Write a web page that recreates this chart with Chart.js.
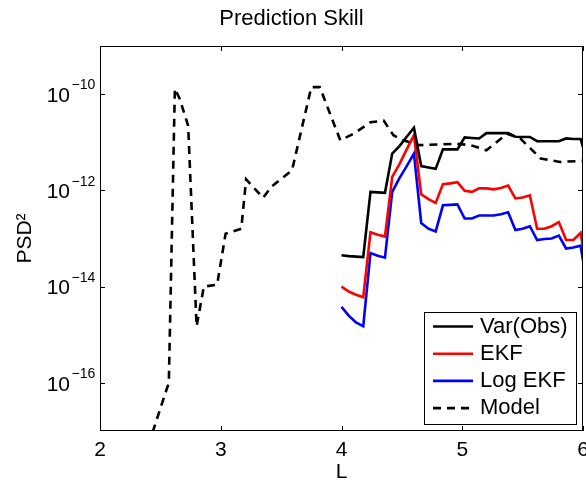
<!DOCTYPE html>
<html>
<head>
<meta charset="utf-8">
<script src="https://cdn.jsdelivr.net/npm/chart.js@4.4.0/dist/chart.umd.min.js"></script>
<style>
  body { margin: 0; background: #fff; }
  #wrap { width: 586px; height: 481px; }
</style>
</head>
<body>
<div id="wrap"><canvas id="skillChart"></canvas></div>
<script>
// L grid for the filter runs
const L = [4.00, 4.06, 4.12, 4.18, 4.24, 4.30, 4.36, 4.42, 4.48, 4.54, 4.60, 4.66, 4.72, 4.78, 4.84, 4.90, 4.96, 5.02,
           5.08, 5.14, 5.20, 5.26, 5.32, 5.38, 5.44, 5.50, 5.56, 5.62, 5.68, 5.74, 5.80, 5.86, 5.92, 5.98, 6.00];
const varObs = [4.5e-14, 4.3e-14, 4.2e-14, 4.1e-14, 9.3e-13, 9.1e-13, 8.9e-13, 5.8e-12, 8.3e-12, 1.3e-11, 2.0e-11, 3.2e-12,
                3.0e-12, 2.8e-12, 7.1e-12, 7.1e-12, 7.1e-12, 1.26e-11, 1.23e-11, 1.2e-11, 1.55e-11, 1.55e-11, 1.55e-11, 1.55e-11,
                1.3e-11, 1.29e-11, 1.29e-11, 1.05e-11, 1.05e-11, 1.05e-11, 1.05e-11, 1.2e-11, 1.17e-11, 1.17e-11, 7.9e-12];
const ekf = [1.0e-14, 7.9e-15, 6.8e-15, 6.0e-15, 1.35e-13, 1.2e-13, 1.1e-13, 1.9e-12, 3.5e-12, 7.1e-12, 1.4e-11, 8.3e-13,
             6.6e-13, 5.5e-13, 1.35e-12, 1.4e-12, 1.48e-12, 9.8e-13, 9.3e-13, 1.1e-12, 1.1e-12, 1.05e-12, 1.12e-12, 1.26e-12,
             6.8e-13, 7.1e-13, 7.9e-13, 1.6e-13, 1.6e-13, 1.8e-13, 2.2e-13, 9.3e-14, 9.3e-14, 1.3e-13, 6.6e-14];
const logEkf = [3.8e-15, 2.5e-15, 1.8e-15, 1.5e-15, 5.0e-14, 4.4e-14, 4.0e-14, 9.3e-13, 1.8e-12, 3.2e-12, 5.8e-12, 2.1e-13,
                1.6e-13, 1.4e-13, 4.9e-13, 5.0e-13, 5.1e-13, 2.6e-13, 2.6e-13, 3.0e-13, 3.0e-13, 3.0e-13, 3.2e-13, 3.5e-13,
                1.5e-13, 1.6e-13, 1.8e-13, 9.3e-14, 9.8e-14, 1.0e-13, 1.15e-13, 6.2e-14, 6.5e-14, 7.1e-14, 3.5e-14];

// model run
const modelL = [2.40, 2.54, 2.57, 2.62, 2.66, 2.73, 2.80, 2.86, 2.97, 3.04, 3.17, 3.21, 3.35, 3.42, 3.59, 3.75,
                3.82, 3.99, 4.10, 4.24, 4.35, 4.43, 4.51, 4.65, 4.95, 5.07, 5.20, 5.37, 5.48, 5.65, 5.81, 5.99];
const model = [5e-18, 6e-17, 1e-16, 1.3e-10, 8e-11, 2.2e-11, 1.5e-15, 1e-14, 1.1e-14, 1.25e-13, 1.6e-13, 1.7e-12,
               7e-13, 1.2e-12, 2.6e-12, 1.4e-10, 1.4e-10, 1.1e-11, 1.5e-11, 2.6e-11, 2.8e-11, 1.4e-11, 1.1e-11, 8.7e-12,
               9.3e-12, 8.7e-12, 6.8e-12, 1.5e-11, 1.2e-11, 4.6e-12, 3.9e-12, 4.1e-12];

const xTicks = [2, 3, 4, 5, 6];
const yTicks = [1e-16, 1e-14, 1e-12, 1e-10];
const yTickExp = ['\u221216', '\u221214', '\u221212', '\u221210'];

const FONT = "'Liberation Sans', Arial, Helvetica, sans-serif";
Chart.defaults.font.family = FONT;
Chart.defaults.color = '#000';

const pts = (xs, ys) => xs.map((x, i) => ({x: x, y: ys[i]}));

// box, inward ticks, superscripts and the legend, matlab style
const axesBox = {
    id: 'axesBox',
    afterDatasetsDraw(chart) {
        const {ctx, chartArea: a, scales: {x, y}} = chart;
        ctx.save();
        ctx.strokeStyle = '#000';
        ctx.lineWidth = 1;
        ctx.strokeRect(a.left + 0.5, a.top + 0.5, a.right - a.left - 1, a.bottom - a.top - 1);
        ctx.beginPath();
        xTicks.forEach(v => {
            const px = Math.round(x.getPixelForValue(v)) + 0.5;
            ctx.moveTo(px, a.bottom); ctx.lineTo(px, a.bottom - 5);
            ctx.moveTo(px, a.top); ctx.lineTo(px, a.top + 5);
        });
        yTicks.forEach(v => {
            const py = Math.round(y.getPixelForValue(v)) + 0.5;
            ctx.moveTo(a.left, py); ctx.lineTo(a.left + 5, py);
            ctx.moveTo(a.right, py); ctx.lineTo(a.right - 5, py);
        });
        ctx.stroke();

        ctx.font = '14px ' + FONT;
        ctx.fillStyle = '#000';
        ctx.textAlign = 'left';
        ctx.textBaseline = 'alphabetic';
        yTicks.forEach((v, i) => {
            ctx.fillText(yTickExp[i], a.left - 28.5, y.getPixelForValue(v) - 4.7);
        });
        ctx.restore();
    },
    afterDraw(chart) {
        const {ctx, chartArea: a} = chart;
        const left = a.right - 159, top = a.bottom - 119, w = 152, h = 112;
        ctx.save();
        ctx.fillStyle = '#fff';
        ctx.fillRect(left, top, w, h);
        ctx.strokeStyle = '#000';
        ctx.lineWidth = 1;
        ctx.strokeRect(left + 0.5, top + 0.5, w, h);
        ctx.font = '22px ' + FONT;
        ctx.textAlign = 'left';
        ctx.textBaseline = 'middle';
        chart.data.datasets.forEach((ds, i) => {
            const cy = top + 14.5 + 27.2 * i;
            ctx.beginPath();
            ctx.strokeStyle = ds.borderColor;
            ctx.lineWidth = ds.borderWidth;
            ctx.setLineDash(ds.borderDash || []);
            ctx.moveTo(left + 9, cy);
            ctx.lineTo(left + 49, cy);
            ctx.stroke();
            ctx.setLineDash([]);
            ctx.fillStyle = '#000';
            ctx.fillText(ds.label, left + 56, cy);
        });
        ctx.restore();
    }
};

const skillChart = new Chart(
    document.getElementById('skillChart'),
    {
        type: 'line',
        data: {
            datasets: [
                {
                    label: 'Var(Obs)',
                    data: pts(L, varObs),
                    borderColor: '#000000',
                    borderWidth: 2.6,
                    order: 1,
                },
                {
                    label: 'EKF',
                    data: pts(L, ekf),
                    borderColor: '#ff0000',
                    borderWidth: 2.6,
                    order: 2,
                },
                {
                    label: 'Log EKF',
                    data: pts(L, logEkf),
                    borderColor: '#0000ff',
                    borderWidth: 2.6,
                    order: 3,
                },
                {
                    label: 'Model',
                    data: pts(modelL, model),
                    borderColor: '#000000',
                    borderWidth: 2.6,
                    borderDash: [8, 6],
                    order: 4,
                },
            ]
        },
        options: {
            responsive: true,
            maintainAspectRatio: false,
            animation: false,
            layout: {
                padding: {left: 0, right: 3, top: 0, bottom: 0}
            },
            elements: {
                point: {radius: 0},
                line: {tension: 0, fill: false}
            },
            plugins: {
                legend: {display: false},
                tooltip: {enabled: false},
                title: {
                    display: true,
                    text: 'Prediction Skill',
                    color: '#000',
                    font: {size: 22, weight: 'normal'},
                    padding: {top: 6.2, bottom: 13.4}
                }
            },
            scales: {
                x: {
                    type: 'linear',
                    min: 2,
                    max: 6,
                    afterBuildTicks: (scale) => { scale.ticks = xTicks.map(v => ({value: v})); },
                    afterFit: (scale) => {
                        scale.height = 50;
                        scale.paddingLeft = 0;
                        scale.paddingRight = 0;
                    },
                    grid: {display: false, drawTicks: false},
                    border: {display: false},
                    ticks: {font: {size: 21}, padding: 7, color: '#000'},
                    title: {
                        display: true,
                        text: 'L',
                        font: {size: 21},
                        padding: {top: 0, bottom: -4}
                    }
                },
                y: {
                    type: 'logarithmic',
                    min: 1e-17,
                    max: 1e-9,
                    afterBuildTicks: (scale) => { scale.ticks = yTicks.map(v => ({value: v})); },
                    afterFit: (scale) => {
                        scale.width = 100;
                        scale.paddingTop = 0;
                        scale.paddingBottom = 0;
                    },
                    grid: {display: false, drawTicks: false},
                    border: {display: false},
                    ticks: {
                        font: {size: 21},
                        padding: 30,
                        labelOffset: 2,
                        color: '#000',
                        callback: () => '10'
                    },
                    title: {
                        display: true,
                        text: 'PSD\u00b2',
                        font: {size: 21},
                        padding: {top: 13, bottom: 0}
                    }
                }
            }
        },
        plugins: [axesBox]
    }
);
</script>
</body>
</html>
